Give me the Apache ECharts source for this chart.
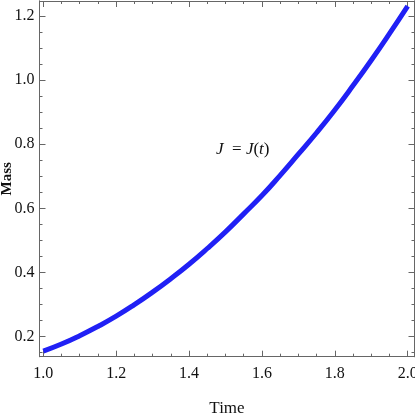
<!DOCTYPE html>
<html>
<head>
<meta charset="utf-8">
<script src="https://cdn.jsdelivr.net/npm/echarts@6/dist/echarts.min.js"></script>
<style>
  html, body { margin: 0; padding: 0; background: #fff; }
  #chart { width: 415px; height: 416px; }
</style>
</head>
<body>
<div id="chart"></div>
<script>
// values
const time = [1.00, 1.05, 1.10, 1.15, 1.20, 1.25, 1.30, 1.35, 1.40, 1.45, 1.50,
              1.55, 1.60, 1.65, 1.70, 1.75, 1.80, 1.85, 1.90, 1.95, 2.00]
const mass = [0.155, 0.177, 0.203, 0.232, 0.264, 0.300, 0.339, 0.381, 0.426, 0.475, 0.527,
              0.583, 0.640, 0.703, 0.769, 0.836, 0.907, 0.983, 1.062, 1.145, 1.231]

const xMajor = [1.0, 1.2, 1.4, 1.6, 1.8, 2.0]
const xMinor = [1.05, 1.1, 1.15, 1.25, 1.3, 1.35, 1.45, 1.5, 1.55, 1.65, 1.7, 1.75, 1.85, 1.9, 1.95]
const yMajor = [0.2, 0.4, 0.6, 0.8, 1.0, 1.2]
const yMinor = [0.15, 0.25, 0.3, 0.35, 0.45, 0.5, 0.55, 0.65, 0.7, 0.75, 0.85, 0.9, 0.95, 1.05, 1.1, 1.15]

const xRange = [0.9896, 2.0187]
const yRange = [0.1376, 1.2468]

const frameColor = '#666'
const serif = 'Liberation Serif'

function frameAxis(pos, range, ticks, len, withLabel, name) {
  const ax = {
    type: 'value',
    position: pos,
    min: range[0],
    max: range[1],
    splitLine: { show: false },
    axisLine: { show: true, lineStyle: { color: frameColor, width: 1 } },
    axisTick: {
      show: true,
      inside: true,
      length: len,
      customValues: ticks,
      lineStyle: { color: frameColor, width: 1 }
    },
    axisLabel: { show: false }
  }
  if (withLabel) {
    ax.axisLabel = {
      show: true,
      customValues: ticks,
      formatter: (v) => v.toFixed(1),
      color: '#111',
      fontFamily: serif,
      fontSize: 16,
      margin: pos === 'left' ? 5 : 9
    }
  }
  if (name) {
    ax.name = name.text
    ax.nameLocation = 'middle'
    ax.nameGap = name.gap
    ax.nameMoveOverlap = false
    ax.nameTextStyle = name.style
  }
  return ax
}

const chart = echarts.init(document.getElementById('chart'))
chart.setOption({
  animation: false,
  backgroundColor: '#fff',
  grid: { left: 39.5, right: 0.5, top: 1, bottom: 59.3, containLabel: false, outerBoundsMode: 'none' },
  xAxis: [
    frameAxis('bottom', xRange, xMajor, 6, true,
      { text: 'Time', gap: 43, style: { fontFamily: serif, fontSize: 17, color: '#111' } }),
    frameAxis('bottom', xRange, xMinor, 3, false),
    frameAxis('top', xRange, xMajor, 6, false),
    frameAxis('top', xRange, xMinor, 3, false)
  ],
  yAxis: [
    frameAxis('left', yRange, yMajor, 6, true,
      { text: 'Mass', gap: 25, style: { fontFamily: serif, fontSize: 15, fontWeight: 'bold', color: '#111' } }),
    frameAxis('left', yRange, yMinor, 3, false),
    frameAxis('right', yRange, yMajor, 6, false),
    frameAxis('right', yRange, yMinor, 3, false)
  ],
  graphic: [{
    type: 'text',
    left: 216,
    top: 141,
    style: {
      text: '{i|J}  = {i|J}({i|t})',
      fontFamily: serif,
      fontSize: 17,
      fill: '#111',
      rich: {
        i: { fontFamily: serif, fontStyle: 'italic', fontSize: 17, color: '#111' }
      }
    }
  }],
  series: [{
    type: 'line',
    xAxisIndex: 0,
    yAxisIndex: 0,
    data: time.map((t, i) => [t, mass[i]]),
    smooth: true,
    showSymbol: false,
    lineStyle: { color: '#2020f5', width: 5 }
  }]
})
</script>
</body>
</html>
